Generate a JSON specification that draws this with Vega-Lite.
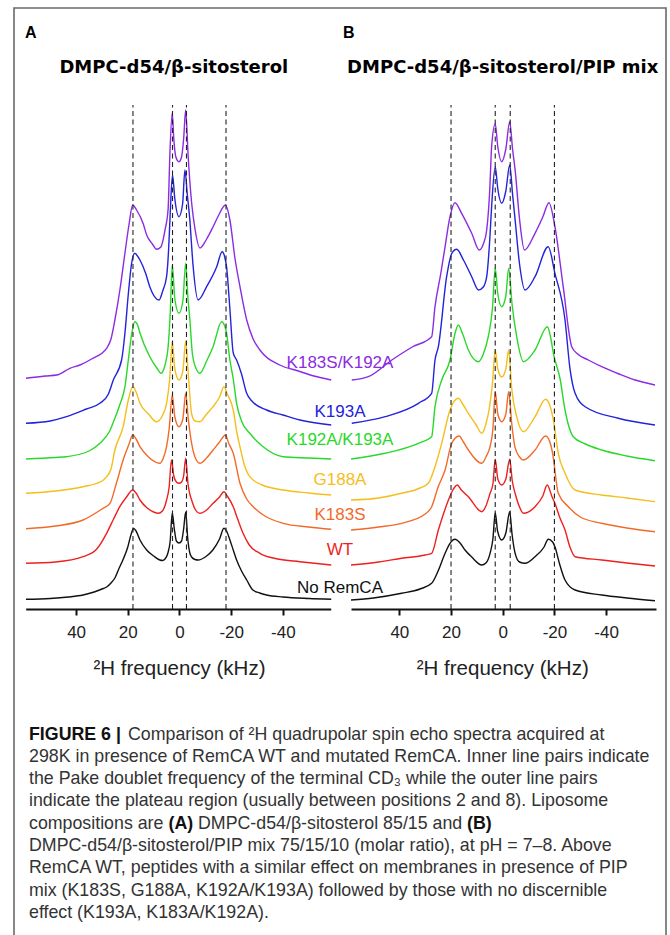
{
"$schema": "https://vega.github.io/schema/vega-lite/v6.json",
"width": 652,
"height": 930,
"autosize": {"type": "none"},
"padding": {"left": 14, "top": 8, "right": 4, "bottom": -3},
"background": "white",
"config": {"view": {"stroke": "#6a6a6a", "strokeWidth": 1.6}, "text": {"font": "Liberation Sans"}},
"datasets": {
"A": [
{"s":"K183S/K192A","f":59.4,"v":230.7},{"s":"K183S/K192A","f":52,"v":233},{"s":"K183S/K192A","f":47.5,"v":234},{"s":"K183S/K192A","f":42.4,"v":240.7},{"s":"K183S/K192A","f":38.5,"v":244},{"s":"K183S/K192A","f":34,"v":250},{"s":"K183S/K192A","f":28.2,"v":260.7},{"s":"K183S/K192A","f":26.5,"v":270},{"s":"K183S/K192A","f":25,"v":289},{"s":"K183S/K192A","f":23,"v":320},{"s":"K183S/K192A","f":21.1,"v":356},{"s":"K183S/K192A","f":19.5,"v":385},{"s":"K183S/K192A","f":18.1,"v":404},{"s":"K183S/K192A","f":16.6,"v":399},{"s":"K183S/K192A","f":14,"v":385},{"s":"K183S/K192A","f":12.7,"v":374},{"s":"K183S/K192A","f":10.5,"v":365},{"s":"K183S/K192A","f":8.9,"v":359.7},{"s":"K183S/K192A","f":7.2,"v":362},{"s":"K183S/K192A","f":5.6,"v":379},{"s":"K183S/K192A","f":4.4,"v":400},{"s":"K183S/K192A","f":3.7,"v":456},{"s":"K183S/K192A","f":2.8,"v":496},{"s":"K183S/K192A","f":2.2,"v":470},{"s":"K183S/K192A","f":1.4,"v":452},{"s":"K183S/K192A","f":0.2,"v":447.3},{"s":"K183S/K192A","f":-0.8,"v":452},{"s":"K183S/K192A","f":-1.6,"v":470},{"s":"K183S/K192A","f":-2.4,"v":499},{"s":"K183S/K192A","f":-3.3,"v":455},{"s":"K183S/K192A","f":-4.7,"v":406},{"s":"K183S/K192A","f":-6,"v":380},{"s":"K183S/K192A","f":-7.9,"v":361},{"s":"K183S/K192A","f":-10.5,"v":370},{"s":"K183S/K192A","f":-13,"v":382.3},{"s":"K183S/K192A","f":-15,"v":393},{"s":"K183S/K192A","f":-17.8,"v":404},{"s":"K183S/K192A","f":-19.5,"v":389},{"s":"K183S/K192A","f":-21.5,"v":350},{"s":"K183S/K192A","f":-23.4,"v":322.3},{"s":"K183S/K192A","f":-26,"v":289},{"s":"K183S/K192A","f":-28.5,"v":270},{"s":"K183S/K192A","f":-31.1,"v":259},{"s":"K183S/K192A","f":-38.8,"v":244},{"s":"K183S/K192A","f":-46,"v":238},{"s":"K183S/K192A","f":-52,"v":233},{"s":"K183S/K192A","f":-58.7,"v":229},
{"s":"K193A","f":59.4,"v":185.7},{"s":"K193A","f":50,"v":188},{"s":"K193A","f":43.7,"v":192.3},{"s":"K193A","f":36,"v":200},{"s":"K193A","f":30.8,"v":205.7},{"s":"K193A","f":27.5,"v":215},{"s":"K193A","f":25.6,"v":229},{"s":"K193A","f":22.4,"v":249},{"s":"K193A","f":21.1,"v":276},{"s":"K193A","f":19.8,"v":315},{"s":"K193A","f":18.5,"v":346},{"s":"K193A","f":17.3,"v":355.7},{"s":"K193A","f":16,"v":352},{"s":"K193A","f":15.3,"v":349},{"s":"K193A","f":13,"v":335},{"s":"K193A","f":11.5,"v":322.3},{"s":"K193A","f":7.9,"v":309},{"s":"K193A","f":6.5,"v":318},{"s":"K193A","f":5,"v":332.3},{"s":"K193A","f":4.2,"v":360},{"s":"K193A","f":3.7,"v":389},{"s":"K193A","f":2.7,"v":434},{"s":"K193A","f":1.8,"v":410},{"s":"K193A","f":0.2,"v":392.3},{"s":"K193A","f":-1.2,"v":405},{"s":"K193A","f":-2.1,"v":439},{"s":"K193A","f":-3,"v":415},{"s":"K193A","f":-4,"v":389},{"s":"K193A","f":-5.2,"v":345},{"s":"K193A","f":-7.2,"v":309},{"s":"K193A","f":-10.5,"v":322.3},{"s":"K193A","f":-14.4,"v":342.3},{"s":"K193A","f":-16.5,"v":357.3},{"s":"K193A","f":-17.5,"v":352},{"s":"K193A","f":-18.2,"v":342.3},{"s":"K193A","f":-19.5,"v":300},{"s":"K193A","f":-20.8,"v":256},{"s":"K193A","f":-22.1,"v":249},{"s":"K193A","f":-24,"v":235},{"s":"K193A","f":-26,"v":215.7},{"s":"K193A","f":-28,"v":208},{"s":"K193A","f":-33.7,"v":199},{"s":"K193A","f":-40,"v":194},{"s":"K193A","f":-46.6,"v":189},{"s":"K193A","f":-58.7,"v":184},
{"s":"K192A/K193A","f":59.4,"v":150},{"s":"K192A/K193A","f":48,"v":151.5},{"s":"K192A/K193A","f":43.7,"v":152.3},{"s":"K192A/K193A","f":35,"v":158},{"s":"K192A/K193A","f":30.8,"v":165.7},{"s":"K192A/K193A","f":27,"v":178},{"s":"K192A/K193A","f":25,"v":190.7},{"s":"K192A/K193A","f":23,"v":205},{"s":"K192A/K193A","f":21.1,"v":222.3},{"s":"K192A/K193A","f":19.8,"v":249},{"s":"K192A/K193A","f":18.5,"v":275},{"s":"K192A/K193A","f":17.3,"v":287.3},{"s":"K192A/K193A","f":16.2,"v":284},{"s":"K192A/K193A","f":15.3,"v":276},{"s":"K192A/K193A","f":11.5,"v":252.3},{"s":"K192A/K193A","f":8.5,"v":240},{"s":"K192A/K193A","f":7.2,"v":235.7},{"s":"K192A/K193A","f":5.5,"v":245},{"s":"K192A/K193A","f":4.4,"v":262},{"s":"K192A/K193A","f":3.6,"v":295},{"s":"K192A/K193A","f":2.8,"v":344},{"s":"K192A/K193A","f":1.8,"v":310},{"s":"K192A/K193A","f":0.2,"v":295.7},{"s":"K192A/K193A","f":-1.3,"v":308},{"s":"K192A/K193A","f":-2.4,"v":345.7},{"s":"K192A/K193A","f":-3.3,"v":310},{"s":"K192A/K193A","f":-4,"v":290},{"s":"K192A/K193A","f":-5,"v":255},{"s":"K192A/K193A","f":-6.5,"v":240},{"s":"K192A/K193A","f":-7.9,"v":235.7},{"s":"K192A/K193A","f":-10.5,"v":248},{"s":"K192A/K193A","f":-13,"v":262.3},{"s":"K192A/K193A","f":-16.3,"v":287.3},{"s":"K192A/K193A","f":-17.5,"v":283},{"s":"K192A/K193A","f":-18.2,"v":276},{"s":"K192A/K193A","f":-19.5,"v":249},{"s":"K192A/K193A","f":-20.8,"v":230},{"s":"K192A/K193A","f":-22.1,"v":205.7},{"s":"K192A/K193A","f":-24,"v":188},{"s":"K192A/K193A","f":-27.2,"v":175.7},{"s":"K192A/K193A","f":-32,"v":163},{"s":"K192A/K193A","f":-40.1,"v":152.3},{"s":"K192A/K193A","f":-50,"v":151},{"s":"K192A/K193A","f":-58.7,"v":150},
{"s":"G188A","f":59.4,"v":115.7},{"s":"G188A","f":48,"v":118},{"s":"G188A","f":37.3,"v":122.3},{"s":"G188A","f":30,"v":128},{"s":"G188A","f":28.2,"v":132.3},{"s":"G188A","f":26.5,"v":140},{"s":"G188A","f":25,"v":159},{"s":"G188A","f":21.8,"v":182.3},{"s":"G188A","f":19.8,"v":209},{"s":"G188A","f":18.1,"v":222.3},{"s":"G188A","f":16.8,"v":217},{"s":"G188A","f":15.3,"v":205.7},{"s":"G188A","f":12,"v":195},{"s":"G188A","f":8.9,"v":187.3},{"s":"G188A","f":6.5,"v":194},{"s":"G188A","f":5,"v":205.7},{"s":"G188A","f":3.8,"v":230},{"s":"G188A","f":2.8,"v":267},{"s":"G188A","f":1.8,"v":240},{"s":"G188A","f":0.2,"v":229},{"s":"G188A","f":-1.3,"v":238},{"s":"G188A","f":-2.4,"v":268},{"s":"G188A","f":-3.4,"v":235},{"s":"G188A","f":-4.7,"v":195},{"s":"G188A","f":-6,"v":188},{"s":"G188A","f":-7.9,"v":187.3},{"s":"G188A","f":-10.5,"v":195},{"s":"G188A","f":-13,"v":202.3},{"s":"G188A","f":-15.5,"v":212},{"s":"G188A","f":-17.2,"v":222.3},{"s":"G188A","f":-18.5,"v":215},{"s":"G188A","f":-20.8,"v":199},{"s":"G188A","f":-22.3,"v":175},{"s":"G188A","f":-23.4,"v":162.3},{"s":"G188A","f":-25,"v":145},{"s":"G188A","f":-27.2,"v":132.3},{"s":"G188A","f":-32,"v":124},{"s":"G188A","f":-40.1,"v":119},{"s":"G188A","f":-50,"v":116},{"s":"G188A","f":-58.7,"v":114},
{"s":"K183S","f":59.4,"v":80.3},{"s":"K183S","f":48,"v":83},{"s":"K183S","f":37.3,"v":89},{"s":"K183S","f":30,"v":100},{"s":"K183S","f":26.9,"v":105.7},{"s":"K183S","f":24.5,"v":125},{"s":"K183S","f":21.8,"v":149},{"s":"K183S","f":19.5,"v":165},{"s":"K183S","f":18.1,"v":174},{"s":"K183S","f":16.8,"v":170},{"s":"K183S","f":15.3,"v":162.3},{"s":"K183S","f":12,"v":152},{"s":"K183S","f":7.6,"v":145.7},{"s":"K183S","f":6.4,"v":150},{"s":"K183S","f":5,"v":162.3},{"s":"K183S","f":4,"v":180},{"s":"K183S","f":2.8,"v":214},{"s":"K183S","f":1.8,"v":192},{"s":"K183S","f":0.2,"v":182.3},{"s":"K183S","f":-1.3,"v":190},{"s":"K183S","f":-2.4,"v":215.7},{"s":"K183S","f":-3.4,"v":190},{"s":"K183S","f":-4.7,"v":165.7},{"s":"K183S","f":-6,"v":152},{"s":"K183S","f":-7.9,"v":145.7},{"s":"K183S","f":-10.5,"v":151},{"s":"K183S","f":-13,"v":159},{"s":"K183S","f":-15.5,"v":167},{"s":"K183S","f":-17.8,"v":174},{"s":"K183S","f":-19,"v":166},{"s":"K183S","f":-20.8,"v":155.7},{"s":"K183S","f":-23.4,"v":125.7},{"s":"K183S","f":-26,"v":110},{"s":"K183S","f":-28.5,"v":102.3},{"s":"K183S","f":-33,"v":93},{"s":"K183S","f":-40.1,"v":85.7},{"s":"K183S","f":-50,"v":82},{"s":"K183S","f":-58.7,"v":79.7},
{"s":"WT","f":59.4,"v":45.7},{"s":"WT","f":48,"v":47},{"s":"WT","f":37.3,"v":52.3},{"s":"WT","f":32,"v":60},{"s":"WT","f":28.2,"v":75.7},{"s":"WT","f":25.5,"v":90},{"s":"WT","f":23.1,"v":102.3},{"s":"WT","f":20.5,"v":112},{"s":"WT","f":18.1,"v":119},{"s":"WT","f":16.8,"v":116},{"s":"WT","f":15.3,"v":109},{"s":"WT","f":12.5,"v":101},{"s":"WT","f":10,"v":97},{"s":"WT","f":8.2,"v":95.7},{"s":"WT","f":6.6,"v":98},{"s":"WT","f":5,"v":109},{"s":"WT","f":4,"v":122},{"s":"WT","f":3.1,"v":149},{"s":"WT","f":2.2,"v":133},{"s":"WT","f":1.2,"v":127},{"s":"WT","f":0.2,"v":125.7},{"s":"WT","f":-0.8,"v":127},{"s":"WT","f":-1.6,"v":133},{"s":"WT","f":-2.4,"v":150.7},{"s":"WT","f":-3.3,"v":125},{"s":"WT","f":-4,"v":115},{"s":"WT","f":-4.7,"v":109},{"s":"WT","f":-6,"v":100},{"s":"WT","f":-7.9,"v":95.7},{"s":"WT","f":-10.5,"v":99},{"s":"WT","f":-13,"v":105.7},{"s":"WT","f":-15.5,"v":112},{"s":"WT","f":-17.2,"v":117.3},{"s":"WT","f":-18.5,"v":113},{"s":"WT","f":-20.8,"v":102.3},{"s":"WT","f":-22.5,"v":90},{"s":"WT","f":-24.6,"v":75.7},{"s":"WT","f":-27,"v":64},{"s":"WT","f":-31.1,"v":55.7},{"s":"WT","f":-38,"v":50},{"s":"WT","f":-46.6,"v":47.3},{"s":"WT","f":-58.7,"v":44},
{"s":"No RemCA","f":59.4,"v":9.7},{"s":"No RemCA","f":50,"v":10.5},{"s":"No RemCA","f":43,"v":12},{"s":"No RemCA","f":37.3,"v":14},{"s":"No RemCA","f":33,"v":17},{"s":"No RemCA","f":30,"v":20},{"s":"No RemCA","f":28.2,"v":22},{"s":"No RemCA","f":26.5,"v":26},{"s":"No RemCA","f":25,"v":31},{"s":"No RemCA","f":23.5,"v":40},{"s":"No RemCA","f":21.9,"v":49},{"s":"No RemCA","f":20,"v":62},{"s":"No RemCA","f":18.8,"v":74},{"s":"No RemCA","f":17.7,"v":80.5},{"s":"No RemCA","f":16.8,"v":78},{"s":"No RemCA","f":15.3,"v":69},{"s":"No RemCA","f":12.7,"v":59},{"s":"No RemCA","f":10,"v":53},{"s":"No RemCA","f":7.6,"v":49},{"s":"No RemCA","f":6.6,"v":48.5},{"s":"No RemCA","f":5.6,"v":50},{"s":"No RemCA","f":4.6,"v":55},{"s":"No RemCA","f":3.6,"v":68},{"s":"No RemCA","f":2.8,"v":96},{"s":"No RemCA","f":2,"v":80},{"s":"No RemCA","f":1.2,"v":68},{"s":"No RemCA","f":0.2,"v":66},{"s":"No RemCA","f":-0.8,"v":68},{"s":"No RemCA","f":-1.6,"v":80},{"s":"No RemCA","f":-2.4,"v":97},{"s":"No RemCA","f":-3.2,"v":70},{"s":"No RemCA","f":-4,"v":56},{"s":"No RemCA","f":-4.7,"v":52},{"s":"No RemCA","f":-6,"v":49.5},{"s":"No RemCA","f":-7.2,"v":49},{"s":"No RemCA","f":-10,"v":52},{"s":"No RemCA","f":-12.9,"v":59},{"s":"No RemCA","f":-15.5,"v":70},{"s":"No RemCA","f":-17.2,"v":80.7},{"s":"No RemCA","f":-18.2,"v":78},{"s":"No RemCA","f":-19.5,"v":69},{"s":"No RemCA","f":-20.8,"v":59},{"s":"No RemCA","f":-22.1,"v":49},{"s":"No RemCA","f":-24,"v":38},{"s":"No RemCA","f":-26,"v":29},{"s":"No RemCA","f":-28.4,"v":19},{"s":"No RemCA","f":-31,"v":16},{"s":"No RemCA","f":-33.7,"v":14},{"s":"No RemCA","f":-40,"v":12},{"s":"No RemCA","f":-50,"v":10.5},{"s":"No RemCA","f":-58.7,"v":9.7}
],
"B": [
{"s":"K183S/K192A","f":58.4,"v":229},{"s":"K183S/K192A","f":52,"v":232.3},{"s":"K183S/K192A","f":42.9,"v":249},{"s":"K183S/K192A","f":35,"v":262},{"s":"K183S/K192A","f":27.5,"v":272.3},{"s":"K183S/K192A","f":26.2,"v":302.3},{"s":"K183S/K192A","f":24,"v":335},{"s":"K183S/K192A","f":22.3,"v":362.3},{"s":"K183S/K192A","f":20.4,"v":392.3},{"s":"K183S/K192A","f":18.5,"v":406.3},{"s":"K183S/K192A","f":15.9,"v":395.7},{"s":"K183S/K192A","f":12,"v":375.7},{"s":"K183S/K192A","f":9.1,"v":359},{"s":"K183S/K192A","f":7.5,"v":365},{"s":"K183S/K192A","f":6.2,"v":379},{"s":"K183S/K192A","f":5,"v":420},{"s":"K183S/K192A","f":4.3,"v":462.3},{"s":"K183S/K192A","f":2.9,"v":485},{"s":"K183S/K192A","f":1.9,"v":462},{"s":"K183S/K192A","f":0.4,"v":447.3},{"s":"K183S/K192A","f":-1.2,"v":460},{"s":"K183S/K192A","f":-2.7,"v":487.3},{"s":"K183S/K192A","f":-3.8,"v":460},{"s":"K183S/K192A","f":-4.8,"v":439},{"s":"K183S/K192A","f":-6.5,"v":390},{"s":"K183S/K192A","f":-8.4,"v":359},{"s":"K183S/K192A","f":-12.5,"v":375.7},{"s":"K183S/K192A","f":-15.5,"v":392},{"s":"K183S/K192A","f":-17.9,"v":406.3},{"s":"K183S/K192A","f":-20.2,"v":382.3},{"s":"K183S/K192A","f":-23.4,"v":322.3},{"s":"K183S/K192A","f":-26.7,"v":262.3},{"s":"K183S/K192A","f":-29,"v":255},{"s":"K183S/K192A","f":-33.1,"v":249},{"s":"K183S/K192A","f":-38.3,"v":242.3},{"s":"K183S/K192A","f":-45,"v":235},{"s":"K183S/K192A","f":-51.2,"v":229},{"s":"K183S/K192A","f":-58.9,"v":224},
{"s":"K193A","f":58.4,"v":185.7},{"s":"K193A","f":45.5,"v":192.3},{"s":"K193A","f":32.6,"v":205.7},{"s":"K193A","f":27.5,"v":215.7},{"s":"K193A","f":26.2,"v":249},{"s":"K193A","f":24.9,"v":262.3},{"s":"K193A","f":21.7,"v":332.3},{"s":"K193A","f":19.7,"v":355.7},{"s":"K193A","f":17.8,"v":359.7},{"s":"K193A","f":15.2,"v":349},{"s":"K193A","f":12,"v":332.3},{"s":"K193A","f":9.4,"v":319},{"s":"K193A","f":7.5,"v":322},{"s":"K193A","f":6.2,"v":332.3},{"s":"K193A","f":5,"v":370},{"s":"K193A","f":4.3,"v":402.3},{"s":"K193A","f":2.9,"v":442.3},{"s":"K193A","f":1.9,"v":420},{"s":"K193A","f":0.4,"v":405.7},{"s":"K193A","f":-1.2,"v":418},{"s":"K193A","f":-2.7,"v":444},{"s":"K193A","f":-3.8,"v":415},{"s":"K193A","f":-4.8,"v":389},{"s":"K193A","f":-6.5,"v":345},{"s":"K193A","f":-8.6,"v":319},{"s":"K193A","f":-12.5,"v":332.3},{"s":"K193A","f":-17.6,"v":362.3},{"s":"K193A","f":-20.2,"v":335.7},{"s":"K193A","f":-24.1,"v":289},{"s":"K193A","f":-26,"v":240.7},{"s":"K193A","f":-28,"v":215.7},{"s":"K193A","f":-31.9,"v":202.3},{"s":"K193A","f":-44.7,"v":190.7},{"s":"K193A","f":-58.9,"v":184},
{"s":"K192A/K193A","f":58.7,"v":150},{"s":"K192A/K193A","f":45.5,"v":155.7},{"s":"K192A/K193A","f":32.6,"v":165.7},{"s":"K192A/K193A","f":27.5,"v":172.3},{"s":"K192A/K193A","f":26.2,"v":202.3},{"s":"K192A/K193A","f":23.6,"v":229},{"s":"K192A/K193A","f":20.4,"v":249},{"s":"K192A/K193A","f":18.5,"v":275},{"s":"K192A/K193A","f":17.2,"v":284},{"s":"K192A/K193A","f":15.5,"v":275},{"s":"K192A/K193A","f":13.3,"v":259},{"s":"K192A/K193A","f":9.4,"v":247.3},{"s":"K192A/K193A","f":7.5,"v":255},{"s":"K192A/K193A","f":5.6,"v":272.3},{"s":"K192A/K193A","f":4,"v":300},{"s":"K192A/K193A","f":2.9,"v":340.7},{"s":"K192A/K193A","f":1.9,"v":315},{"s":"K192A/K193A","f":0.4,"v":302.3},{"s":"K192A/K193A","f":-1.2,"v":313},{"s":"K192A/K193A","f":-2.3,"v":340.7},{"s":"K192A/K193A","f":-3.6,"v":305},{"s":"K192A/K193A","f":-5.4,"v":272.3},{"s":"K192A/K193A","f":-8,"v":247.3},{"s":"K192A/K193A","f":-12.5,"v":259},{"s":"K192A/K193A","f":-17.3,"v":282.3},{"s":"K192A/K193A","f":-18.5,"v":272},{"s":"K192A/K193A","f":-19.6,"v":255.7},{"s":"K192A/K193A","f":-22.2,"v":230},{"s":"K192A/K193A","f":-24.1,"v":199},{"s":"K192A/K193A","f":-27.3,"v":172.3},{"s":"K192A/K193A","f":-32,"v":165},{"s":"K192A/K193A","f":-38.3,"v":159},{"s":"K192A/K193A","f":-48,"v":153},{"s":"K192A/K193A","f":-58.9,"v":148.3},
{"s":"G188A","f":58.7,"v":109},{"s":"G188A","f":48,"v":111},{"s":"G188A","f":39.1,"v":115.7},{"s":"G188A","f":32,"v":121},{"s":"G188A","f":28.8,"v":125.7},{"s":"G188A","f":26.2,"v":142.3},{"s":"G188A","f":23.6,"v":165.7},{"s":"G188A","f":20.4,"v":199},{"s":"G188A","f":17.2,"v":210.7},{"s":"G188A","f":15.5,"v":205},{"s":"G188A","f":13.3,"v":195.7},{"s":"G188A","f":10.5,"v":185},{"s":"G188A","f":8.1,"v":175.7},{"s":"G188A","f":6.5,"v":185},{"s":"G188A","f":5.3,"v":199},{"s":"G188A","f":4,"v":225},{"s":"G188A","f":2.9,"v":259},{"s":"G188A","f":1.9,"v":240},{"s":"G188A","f":0.4,"v":232},{"s":"G188A","f":-1.2,"v":240},{"s":"G188A","f":-2.3,"v":259},{"s":"G188A","f":-3.5,"v":220},{"s":"G188A","f":-5.4,"v":192.3},{"s":"G188A","f":-8,"v":177.3},{"s":"G188A","f":-12.5,"v":192.3},{"s":"G188A","f":-16.6,"v":209.7},{"s":"G188A","f":-18.3,"v":203},{"s":"G188A","f":-19.6,"v":189},{"s":"G188A","f":-21.5,"v":155.7},{"s":"G188A","f":-24.1,"v":135.7},{"s":"G188A","f":-28,"v":119},{"s":"G188A","f":-38.3,"v":114},{"s":"G188A","f":-48,"v":111},{"s":"G188A","f":-58.9,"v":107.3},
{"s":"K183S","f":58.7,"v":79},{"s":"K183S","f":48,"v":82},{"s":"K183S","f":39.1,"v":85.7},{"s":"K183S","f":30,"v":95},{"s":"K183S","f":27.5,"v":102.3},{"s":"K183S","f":25,"v":122},{"s":"K183S","f":22.3,"v":139},{"s":"K183S","f":19.7,"v":165.7},{"s":"K183S","f":16.9,"v":173},{"s":"K183S","f":15.2,"v":167},{"s":"K183S","f":13.3,"v":159},{"s":"K183S","f":8.1,"v":145.7},{"s":"K183S","f":6.5,"v":152},{"s":"K183S","f":4.9,"v":162.3},{"s":"K183S","f":3.8,"v":180},{"s":"K183S","f":2.9,"v":217.3},{"s":"K183S","f":1.9,"v":195},{"s":"K183S","f":0.4,"v":187.3},{"s":"K183S","f":-1.2,"v":195},{"s":"K183S","f":-2.3,"v":217.3},{"s":"K183S","f":-3.5,"v":185},{"s":"K183S","f":-4.7,"v":162.3},{"s":"K183S","f":-6.5,"v":152},{"s":"K183S","f":-8,"v":149},{"s":"K183S","f":-12.5,"v":159},{"s":"K183S","f":-16.6,"v":173},{"s":"K183S","f":-18.6,"v":164},{"s":"K183S","f":-19.3,"v":155.7},{"s":"K183S","f":-21.5,"v":115.7},{"s":"K183S","f":-25.4,"v":102.3},{"s":"K183S","f":-30,"v":92},{"s":"K183S","f":-38.3,"v":85.7},{"s":"K183S","f":-48,"v":81},{"s":"K183S","f":-58.9,"v":77.3},
{"s":"WT","f":58.7,"v":44},{"s":"WT","f":48,"v":47},{"s":"WT","f":39.1,"v":50.7},{"s":"WT","f":30,"v":54},{"s":"WT","f":27.5,"v":55.7},{"s":"WT","f":24.9,"v":79},{"s":"WT","f":21,"v":109},{"s":"WT","f":19.5,"v":118},{"s":"WT","f":17.6,"v":124},{"s":"WT","f":16,"v":119},{"s":"WT","f":13.3,"v":112.3},{"s":"WT","f":8.1,"v":97.3},{"s":"WT","f":6.5,"v":103},{"s":"WT","f":4.9,"v":115.7},{"s":"WT","f":3.8,"v":125},{"s":"WT","f":2.9,"v":149.7},{"s":"WT","f":1.9,"v":130},{"s":"WT","f":0.4,"v":124},{"s":"WT","f":-1.2,"v":130},{"s":"WT","f":-2.7,"v":149.7},{"s":"WT","f":-3.7,"v":128},{"s":"WT","f":-4.8,"v":115.7},{"s":"WT","f":-6.5,"v":102},{"s":"WT","f":-8,"v":95.7},{"s":"WT","f":-12.5,"v":102.3},{"s":"WT","f":-15.5,"v":113},{"s":"WT","f":-17.2,"v":124},{"s":"WT","f":-19.1,"v":112},{"s":"WT","f":-20.2,"v":105.7},{"s":"WT","f":-22,"v":92},{"s":"WT","f":-24.1,"v":79},{"s":"WT","f":-26,"v":62},{"s":"WT","f":-28,"v":52.3},{"s":"WT","f":-38.3,"v":49},{"s":"WT","f":-48,"v":46},{"s":"WT","f":-58.9,"v":43},
{"s":"No RemCA","f":58.7,"v":9},{"s":"No RemCA","f":50,"v":11},{"s":"No RemCA","f":39.1,"v":15.7},{"s":"No RemCA","f":32,"v":20},{"s":"No RemCA","f":27.5,"v":25.7},{"s":"No RemCA","f":25,"v":38},{"s":"No RemCA","f":22.3,"v":55.7},{"s":"No RemCA","f":20.4,"v":65.7},{"s":"No RemCA","f":18.5,"v":69.7},{"s":"No RemCA","f":16.5,"v":66},{"s":"No RemCA","f":14.6,"v":59},{"s":"No RemCA","f":12,"v":52},{"s":"No RemCA","f":8.1,"v":44},{"s":"No RemCA","f":6.5,"v":46},{"s":"No RemCA","f":4.9,"v":55.7},{"s":"No RemCA","f":3.8,"v":70},{"s":"No RemCA","f":2.9,"v":96.3},{"s":"No RemCA","f":2,"v":78},{"s":"No RemCA","f":0.4,"v":69},{"s":"No RemCA","f":-1.2,"v":76},{"s":"No RemCA","f":-2.7,"v":97.3},{"s":"No RemCA","f":-3.6,"v":75},{"s":"No RemCA","f":-4.8,"v":55.7},{"s":"No RemCA","f":-6.5,"v":47},{"s":"No RemCA","f":-8.6,"v":45.7},{"s":"No RemCA","f":-12.5,"v":52.3},{"s":"No RemCA","f":-16,"v":62},{"s":"No RemCA","f":-17.6,"v":69.7},{"s":"No RemCA","f":-19.3,"v":67},{"s":"No RemCA","f":-20.2,"v":62.3},{"s":"No RemCA","f":-22,"v":45},{"s":"No RemCA","f":-24.1,"v":29},{"s":"No RemCA","f":-28,"v":19},{"s":"No RemCA","f":-38.3,"v":14},{"s":"No RemCA","f":-48,"v":11},{"s":"No RemCA","f":-58.9,"v":8.3}
],
"labels": [
{"s":"K183S/K192A","v":245.7},{"s":"K193A","v":197.3},{"s":"K192A/K193A","v":169},{"s":"G188A","v":129},{"s":"K183S","v":94},{"s":"WT","v":59},{"s":"No RemCA","v":20.7}
],
"caption": [
{"line":2,"t":"298K in presence of RemCA WT and mutated RemCA. Inner line pairs indicate"},
{"line":3,"t":"the Pake doublet frequency of the terminal CD₃ while the outer line pairs"},
{"line":4,"t":"indicate the plateau region (usually between positions 2 and 8). Liposome"},
{"line":5,"t":"compositions are"},
{"line":6,"t":"DMPC-d54/β-sitosterol/PIP mix 75/15/10 (molar ratio), at pH = 7–8. Above"},
{"line":7,"t":"RemCA WT, peptides with a similar effect on membranes in presence of PIP"},
{"line":8,"t":"mix (K183S, G188A, K192A/K193A) followed by those with no discernible"},
{"line":9,"t":"effect (K193A, K183A/K192A)."}
]
},
"layer": [
{
"data": {"name": "A"},
"layer": [
{"mark": {"type": "line", "strokeWidth": 1.4, "interpolate": "monotone"},
 "encoding": {
  "x": {"field": "f", "type": "quantitative", "scale": {"domain": [59.5, -58.5], "range": [11.7, 316.7], "nice": false, "zero": false},
        "axis": {"orient": "bottom", "offset": -329, "zindex": 2, "domain": true, "ticks": true, "values": [40, 20, 0, -20, -40], "title": null, "grid": false, "domainColor": "#111111", "domainWidth": 2.2, "domainOpacity": 1, "tickColor": "#111111", "tickWidth": 2, "tickSize": 6, "tickOpacity": 1, "labelFontSize": 17, "labelFont": "Liberation Sans", "labelColor": "#222222", "labelPadding": 9, "labelExpr": "datum.value + ''", "labelFlush": false, "labelOverlap": false}},
  "y": {"field": "v", "type": "quantitative", "scale": {"domain": [-329, 601], "nice": false, "zero": false}, "axis": null},
  "color": {"field": "s", "type": "nominal", "scale": {"domain": ["K183S/K192A","K193A","K192A/K193A","G188A","K183S","WT","No RemCA"], "range": ["#8b2be2","#2323d9","#2ad82a","#f4be1c","#f26a2a","#ee1f1f","#111111"]}, "legend": null}
 }},
{"data": {"values": [{"f": 18}, {"f": 2.7}, {"f": -2.7}, {"f": -18}]},
 "mark": {"type": "rule", "strokeDash": [5, 3.5], "color": "#222", "strokeWidth": 1.1},
 "encoding": {"x": {"field": "f", "type": "quantitative"}, "y": {"datum": 0}, "y2": {"datum": 504}}},
{"data": {"name": "labels"},
 "mark": {"type": "text", "fontSize": 17, "align": "center", "baseline": "middle"},
 "encoding": {"x": {"datum": -62.1}, "y": {"field": "v", "type": "quantitative"}, "text": {"field": "s"}, "color": {"field": "s", "type": "nominal"}}},
{"data": {"values": [{"t": "A"}]},
 "mark": {"type": "text", "fontSize": 16, "fontWeight": "bold", "align": "left", "baseline": "middle", "color": "#000"},
 "encoding": {"x": {"datum": 59.8}, "y": {"datum": 576}, "text": {"field": "t"}}},
{"data": {"values": [{"t": "DMPC-d54/β-sitosterol"}]},
 "mark": {"type": "text", "font": "DejaVu Sans", "fontSize": 18, "fontWeight": "bold", "align": "center", "baseline": "middle", "color": "#000"},
 "encoding": {"x": {"datum": 2.2}, "y": {"datum": 541}, "text": {"field": "t"}}},
{"data": {"values": [{"t": "²H frequency (kHz)"}]},
 "mark": {"type": "text", "fontSize": 20.5, "align": "center", "baseline": "middle", "color": "#222"},
 "encoding": {"x": {"datum": 0}, "y": {"datum": -60}, "text": {"field": "t"}}}
]
},
{
"data": {"name": "B"},
"layer": [
{"mark": {"type": "line", "strokeWidth": 1.4, "interpolate": "monotone"},
 "encoding": {
  "x": {"field": "f", "type": "quantitative", "scale": {"domain": [58.7, -59.3], "range": [337, 642], "nice": false, "zero": false},
        "axis": {"orient": "bottom", "offset": -329, "zindex": 2, "domain": true, "ticks": true, "values": [40, 20, 0, -20, -40], "title": null, "grid": false, "domainColor": "#111111", "domainWidth": 2.2, "domainOpacity": 1, "tickColor": "#111111", "tickWidth": 2, "tickSize": 6, "tickOpacity": 1, "labelFontSize": 17, "labelFont": "Liberation Sans", "labelColor": "#222222", "labelPadding": 9, "labelExpr": "datum.value + ''", "labelFlush": false, "labelOverlap": false}},
  "y": {"field": "v", "type": "quantitative", "scale": {"domain": [-329, 601], "nice": false, "zero": false}, "axis": null},
  "color": {"field": "s", "type": "nominal", "legend": null}
 }},
{"data": {"values": [{"f": 20}, {"f": 2.9}, {"f": -2.9}, {"f": -20}]},
 "mark": {"type": "rule", "strokeDash": [5, 3.5], "color": "#222", "strokeWidth": 1.1},
 "encoding": {"x": {"field": "f", "type": "quantitative"}, "y": {"datum": 0}, "y2": {"datum": 504}}},
{"data": {"values": [{"t": "B"}]},
 "mark": {"type": "text", "fontSize": 16, "fontWeight": "bold", "align": "left", "baseline": "middle", "color": "#000"},
 "encoding": {"x": {"datum": 61.8}, "y": {"datum": 576}, "text": {"field": "t"}}},
{"data": {"values": [{"t": "DMPC-d54/β-sitosterol/PIP mix"}]},
 "mark": {"type": "text", "font": "DejaVu Sans", "fontSize": 18, "fontWeight": "bold", "align": "center", "baseline": "middle", "color": "#000"},
 "encoding": {"x": {"datum": 0}, "y": {"datum": 541}, "text": {"field": "t"}}},
{"data": {"values": [{"t": "²H frequency (kHz)"}]},
 "mark": {"type": "text", "fontSize": 20.5, "align": "center", "baseline": "middle", "color": "#222"},
 "encoding": {"x": {"datum": 0}, "y": {"datum": -60}, "text": {"field": "t"}}}
]
},
{
"layer": [
{"data": {"values": [{"line": 1, "t": "FIGURE 6 |"}]},
 "mark": {"type": "text", "fontSize": 17.8, "fontWeight": "bold", "align": "left", "baseline": "middle", "color": "#111"},
 "encoding": {"x": {"datum": 0, "scale": {"domain": [0, 1], "range": [15, 652]}, "axis": null}, "y": {"field": "line", "type": "quantitative", "scale": {"domain": [1, 9], "range": [726.5, 905.1], "nice": false, "zero": false}, "axis": null}, "text": {"field": "t"}}},
{"data": {"values": [{"line": 1, "t": "Comparison of ²H quadrupolar spin echo spectra acquired at"}]},
 "mark": {"type": "text", "fontSize": 17.8, "align": "left", "baseline": "middle", "color": "#333", "dx": 99},
 "encoding": {"x": {"datum": 0}, "y": {"field": "line", "type": "quantitative"}, "text": {"field": "t"}}},
{"data": {"name": "caption"},
 "mark": {"type": "text", "fontSize": 17.8, "align": "left", "baseline": "middle", "color": "#333"},
 "encoding": {"x": {"datum": 0}, "y": {"field": "line", "type": "quantitative"}, "text": {"field": "t"}}},
{"data": {"values": [{"line": 5, "t": "(A)"}]},
 "mark": {"type": "text", "fontSize": 17.8, "fontWeight": "bold", "align": "left", "baseline": "middle", "color": "#111", "dx": 139.5},
 "encoding": {"x": {"datum": 0}, "y": {"field": "line", "type": "quantitative"}, "text": {"field": "t"}}},
{"data": {"values": [{"line": 5, "t": "DMPC-d54/β-sitosterol 85/15 and"}]},
 "mark": {"type": "text", "fontSize": 17.8, "align": "left", "baseline": "middle", "color": "#333", "dx": 169},
 "encoding": {"x": {"datum": 0}, "y": {"field": "line", "type": "quantitative"}, "text": {"field": "t"}}},
{"data": {"values": [{"line": 5, "t": "(B)"}]},
 "mark": {"type": "text", "fontSize": 17.8, "fontWeight": "bold", "align": "left", "baseline": "middle", "color": "#111", "dx": 438},
 "encoding": {"x": {"datum": 0}, "y": {"field": "line", "type": "quantitative"}, "text": {"field": "t"}}}
]
}
],
"resolve": {"scale": {"x": "independent", "y": "independent"}, "axis": {"x": "independent", "y": "independent"}}
}
